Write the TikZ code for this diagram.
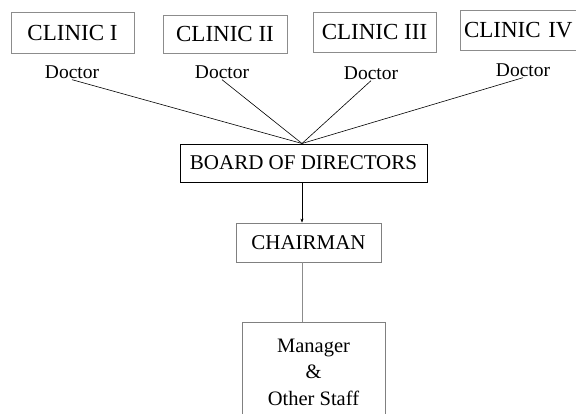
\documentclass[tikz,border=0pt]{standalone}
\usepackage{fontspec}
\setmainfont{Liberation Serif}
\usetikzlibrary{arrows.meta}
\begin{document}
\begin{tikzpicture}[x=1pt,y=-1pt,
  clinicbox/.style={draw=black!45,line width=0.8pt,inner sep=0pt,font=\fontsize{23}{26}\selectfont},
  doclabel/.style={inner sep=1pt,font=\fontsize{19.5}{22}\selectfont},
  mainbox/.style={draw=black,line width=0.8pt,inner sep=0pt,font=\fontsize{21}{24}\selectfont},
  greybox/.style={draw=black!50,line width=0.8pt,inner sep=0pt,font=\fontsize{21}{24}\selectfont},
  link/.style={line width=0.6pt,black}
]
\useasboundingbox (0,0) rectangle (576,413);
% clinics
\node[clinicbox,minimum width=123pt,minimum height=41pt] (c1) at (72.5,32.5) {CLINIC I};
\node[clinicbox,minimum width=124pt,minimum height=38pt] (c2) at (225,34) {CLINIC II};
\node[clinicbox,minimum width=123pt,minimum height=40pt] (c3) at (374.5,32) {CLINIC III};
\node[clinicbox,minimum width=126pt,minimum height=40pt,text width=118pt,align=left] (c4) at (523,30.5) {CLINIC IV};
% doctors
\node[doclabel] (d1) at (72,72) {Doctor};
\node[doclabel] (d2) at (222,72) {Doctor};
\node[doclabel] (d3) at (371,73) {Doctor};
\node[doclabel] (d4) at (523,70) {Doctor};
% board
\node[mainbox,minimum width=247pt,minimum height=38pt] (board) at (303.5,163) {BOARD OF DIRECTORS};
\coordinate (hub) at (302,143.5);
\foreach \d in {d1,d2,d3,d4} \draw[link] (\d.south) -- (hub);
% chairman
\node[greybox,minimum width=145pt,minimum height=39pt] (chair) at (308.5,242.5) {CHAIRMAN};
\draw[link,-{Stealth[length=4pt,width=3pt]}] (hub |- board.south) -- (hub |- chair.north);
% manager
\node[greybox,minimum width=143pt,minimum height=100pt,align=center,font=\fontsize{20.5}{26.5}\selectfont] (mgr) at (313.5,372) {Manager\\\&\\Other Staff};
\draw[line width=0.8pt,black!45] (hub |- chair.south) -- (hub |- mgr.north);
\end{tikzpicture}
\end{document}
